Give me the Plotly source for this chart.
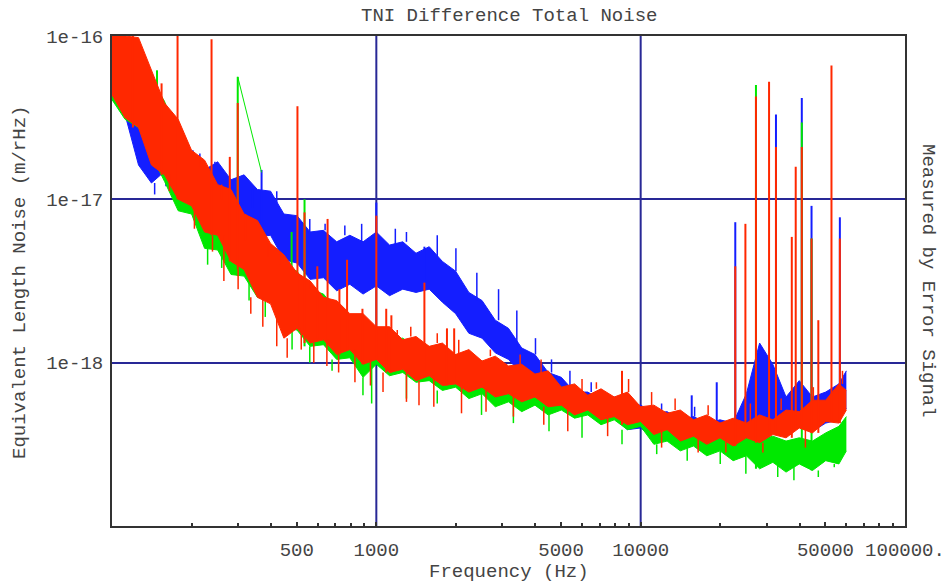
import numpy as np
import plotly.graph_objects as go

# ---------------- data ----------------
freq_hz = [100, 112, 126, 141, 158, 178, 200, 224, 251, 282,
           316, 355, 398, 447, 501, 562, 631, 708, 794, 891,
           1000, 1122, 1259, 1413, 1585, 1778, 1995, 2239, 2512, 2818,
           3162, 3548, 3981, 4467, 5012, 5623, 6310, 7079, 7943, 8913,
           10000, 11220, 12589, 14125, 15849, 17783, 19953, 22387, 25119, 28184,
           31623, 35481, 39811, 44668, 50119, 56234, 60000]

# noise band envelopes, log10(m/rHz)
blue_upper_log10 = [-16.02, -16.16, -16.38, -16.50, -16.52, -16.66, -16.73, -16.82, -16.77, -16.88,
                    -16.85, -16.94, -16.95, -17.09, -17.10, -17.20, -17.19, -17.26, -17.22, -17.26,
                    -17.20, -17.28, -17.26, -17.33, -17.29, -17.38, -17.44, -17.57, -17.62, -17.74,
                    -17.79, -17.91, -17.95, -18.06, -18.09, -18.18, -18.18, -18.23, -18.21, -18.26,
                    -18.26, -18.31, -18.30, -18.35, -18.33, -18.37, -18.35, -18.37, -18.19, -17.88,
                    -18.01, -18.21, -18.11, -18.21, -18.18, -18.13, -18.05]
blue_lower_log10 = [-16.39, -16.48, -16.79, -16.90, -16.83, -16.94, -16.99, -17.06, -17.04, -17.12,
                    -17.11, -17.23, -17.22, -17.37, -17.39, -17.49, -17.48, -17.56, -17.52, -17.58,
                    -17.53, -17.59, -17.55, -17.57, -17.55, -17.63, -17.70, -17.82, -17.85, -17.94,
                    -17.98, -18.07, -18.10, -18.20, -18.21, -18.29, -18.29, -18.36, -18.34, -18.41,
                    -18.40, -18.46, -18.45, -18.49, -18.48, -18.51, -18.49, -18.50, -18.41, -18.35,
                    -18.37, -18.43, -18.39, -18.42, -18.37, -18.35, -18.28]

green_upper_log10 = [-16.00, -16.04, -16.13, -16.27, -16.40, -16.63, -16.73, -16.91, -16.95, -17.09,
                     -17.12, -17.23, -17.28, -17.40, -17.44, -17.55, -17.58, -17.68, -17.71, -17.78,
                     -17.79, -17.86, -17.85, -17.91, -17.90, -17.96, -17.95, -18.01, -17.99, -18.04,
                     -18.04, -18.09, -18.09, -18.15, -18.15, -18.21, -18.20, -18.25, -18.24, -18.29,
                     -18.28, -18.33, -18.32, -18.37, -18.36, -18.41, -18.39, -18.44, -18.43, -18.47,
                     -18.45, -18.48, -18.46, -18.48, -18.43, -18.39, -18.33]
green_lower_log10 = [-16.39, -16.51, -16.56, -16.73, -16.89, -17.07, -17.09, -17.30, -17.31, -17.46,
                     -17.47, -17.60, -17.62, -17.79, -17.80, -17.90, -17.89, -17.98, -17.97, -18.09,
                     -18.01, -18.08, -18.06, -18.12, -18.11, -18.17, -18.15, -18.22, -18.19, -18.27,
                     -18.24, -18.30, -18.26, -18.32, -18.29, -18.34, -18.32, -18.38, -18.35, -18.41,
                     -18.39, -18.50, -18.48, -18.54, -18.51, -18.57, -18.54, -18.60, -18.57, -18.65,
                     -18.61, -18.67, -18.62, -18.66, -18.60, -18.62, -18.54]

red_upper_log10 = [-16.00, -16.00, -16.01, -16.21, -16.41, -16.51, -16.70, -16.76, -16.91, -16.94,
                   -17.09, -17.13, -17.27, -17.34, -17.45, -17.50, -17.60, -17.62, -17.70, -17.70,
                   -17.78, -17.78, -17.86, -17.84, -17.90, -17.88, -17.95, -17.92, -17.99, -17.96,
                   -18.02, -18.01, -18.07, -18.05, -18.15, -18.13, -18.20, -18.16, -18.21, -18.18,
                   -18.27, -18.26, -18.31, -18.29, -18.35, -18.32, -18.37, -18.34, -18.37, -18.32,
                   -18.35, -18.29, -18.30, -18.23, -18.23, -18.13, -18.17]
red_lower_log10 = [-16.36, -16.50, -16.56, -16.79, -16.85, -17.00, -17.04, -17.20, -17.22, -17.38,
                   -17.43, -17.60, -17.64, -17.85, -17.79, -17.88, -17.86, -17.95, -17.92, -18.01,
                   -17.98, -18.06, -18.04, -18.11, -18.08, -18.14, -18.13, -18.18, -18.15, -18.21,
                   -18.19, -18.24, -18.21, -18.27, -18.26, -18.32, -18.29, -18.35, -18.33, -18.38,
                   -18.36, -18.44, -18.41, -18.48, -18.45, -18.50, -18.46, -18.51, -18.46, -18.49,
                   -18.44, -18.46, -18.40, -18.43, -18.36, -18.37, -18.29]

# narrow lines (frequency Hz, peak log10)
blue_spike_hz = [202, 368, 1000, 1520, 15600, 19400, 22800, 32500, 40700, 44300, 56700]
blue_spike_log10 = [-16.70, -16.82, -17.02, -17.29, -18.20, -18.12, -17.14, -16.48, -16.38, -17.04, -17.11]

green_spike_hz = [148, 299, 478, 535, 27300, 40700, 44300]
green_spike_log10 = [-16.21, -16.25, -17.20, -17.00, -16.30, -16.53, -17.24]
green_gap_hz = [299, 368]
green_gap_log10 = [-16.25, -16.835]

red_spike_hz = [112, 120, 154, 177, 238, 279, 299, 503, 535, 598, 654, 725, 775, 886,
                1000, 1090, 1140, 1520, 1850, 1970, 8500, 22800, 24900, 27300, 30600,
                32500, 37300, 38600, 40700, 44300, 47000, 52700, 56700]
red_spike_log10 = [-15.90, -15.90, -16.29, -15.90, -16.02, -16.74, -16.41, -16.43, -17.08, -17.41,
                   -17.12, -17.55, -17.37, -17.67, -17.10, -17.67, -17.71, -17.51, -17.79, -17.79,
                   -18.05, -17.41, -17.15, -16.37, -16.28, -16.68, -17.23, -16.80, -16.68, -17.24,
                   -17.74, -16.18, -17.24]

# short noise excursions beyond the band edges (frequency Hz, tip log10)
red_up_hz = [215, 260, 320, 390, 430, 560, 610, 690, 840, 1200, 1350, 1700, 2050, 2700,
             3500, 4200, 6000, 6800, 9000, 11000, 13500, 18000, 26000, 34000, 45000, 58000]
red_up_log10 = [-16.80, -17.00, -17.25, -17.35, -17.40, -17.55, -17.60, -17.62, -17.70, -17.80,
                -17.78, -17.82, -17.86, -17.92, -17.95, -17.98, -18.10, -18.12, -18.10, -18.18,
                -18.22, -18.26, -18.25, -18.22, -18.15, -18.05]
red_down_hz = [165, 205, 240, 265, 300, 335, 372, 420, 460, 520, 580, 650, 720, 830, 950,
               1060, 1300, 1450, 1650, 2100, 2600, 3300, 4300, 5300, 7500, 12000, 16500,
               21000, 29000, 42000]
red_down_log10 = [-16.95, -17.18, -17.32, -17.50, -17.55, -17.70, -17.78, -17.90, -17.97, -17.92,
                  -18.00, -18.02, -18.06, -18.12, -18.14, -18.18, -18.24, -18.26, -18.27, -18.31,
                  -18.30, -18.33, -18.38, -18.42, -18.45, -18.52, -18.55, -18.55, -18.55, -18.52]
blue_up_hz = [150, 185, 215, 245, 300, 340, 420, 560, 640, 760, 880, 1180, 1300, 1700,
              2000, 2400, 2900, 3400, 4000, 4600, 5400, 6500, 12000, 16000]
blue_up_log10 = [-16.45, -16.65, -16.72, -16.78, -16.98, -17.05, -17.12, -17.12, -17.15, -17.16,
                 -17.15, -17.18, -17.20, -17.22, -17.30, -17.45, -17.55, -17.68, -17.85, -17.98,
                 -18.05, -18.12, -18.25, -18.27]
blue_down_hz = [145, 160]
blue_down_log10 = [-16.97, -16.92]
green_down_hz = [185, 230, 260, 330, 380, 480, 560, 680, 890, 960, 1300, 1700, 2500, 3300,
                 4500, 6000, 8500, 11500, 15000, 20000, 25000, 33000, 38000, 47000, 54000]
green_down_log10 = [-17.05, -17.40, -17.42, -17.62, -17.72, -17.92, -18.00, -18.05, -18.20, -18.25,
                    -18.22, -18.25, -18.32, -18.37, -18.42, -18.46, -18.50, -18.56, -18.60, -18.62,
                    -18.68, -18.70, -18.72, -18.70, -18.64]

x_tick_vals = [500, 1000, 5000, 10000, 50000, 100000]
x_tick_text = ["500", "1000", "5000", "10000", "50000", "100000."]
x_minor_vals = [200, 300, 400, 600, 700, 800, 900, 2000, 3000, 4000, 6000, 7000, 8000, 9000,
                20000, 30000, 40000, 60000, 70000, 80000, 90000]
y_tick_vals = [1e-16, 1e-17, 1e-18]
y_tick_text = ["1e-16", "1e-17", "1e-18"]
grid_x = [1000, 10000]

# ---------------- styling ----------------
BLUE = "rgb(20,30,255)"
GREEN = "rgb(0,232,0)"
RED = "rgb(255,40,0)"
NAVY = "rgb(40,40,150)"
FONT = "Liberation Mono, DejaVu Sans Mono, monospace"
TXT = "#444444"

f = np.array(freq_hz, dtype=float)
logf = np.log10(f)


def band(fig, upper, lower, color):
    fig.add_trace(go.Scatter(x=f, y=10.0 ** np.array(lower), mode="lines",
                             line=dict(color=color, width=1), showlegend=False,
                             hoverinfo="skip"))
    fig.add_trace(go.Scatter(x=f, y=10.0 ** np.array(upper), mode="lines",
                             line=dict(color=color, width=1), fill="tonexty",
                             fillcolor=color, showlegend=False, hoverinfo="skip"))


def spikes(fig, hz, tips, base_env, color, width=2.0):
    xs, ys = [], []
    base = np.array(base_env)
    for h, p in zip(hz, tips):
        i = int(np.argmin(np.abs(logf - np.log10(h))))
        xs += [h, h, None]
        ys += [10.0 ** base[i], 10.0 ** p, None]
    fig.add_trace(go.Scatter(x=xs, y=ys, mode="lines", line=dict(color=color, width=width),
                             showlegend=False, hoverinfo="skip", connectgaps=False))


fig = go.Figure()
band(fig, blue_upper_log10, blue_lower_log10, BLUE)
spikes(fig, blue_up_hz, blue_up_log10, blue_upper_log10, BLUE, 1.5)
spikes(fig, blue_down_hz, blue_down_log10, blue_lower_log10, BLUE, 1.5)
spikes(fig, blue_spike_hz, blue_spike_log10, blue_lower_log10, BLUE)
band(fig, green_upper_log10, green_lower_log10, GREEN)
spikes(fig, green_down_hz, green_down_log10, green_lower_log10, GREEN, 1.5)
spikes(fig, green_spike_hz, green_spike_log10, green_lower_log10, GREEN)
fig.add_trace(go.Scatter(x=green_gap_hz, y=10.0 ** np.array(green_gap_log10), mode="lines",
                         line=dict(color=GREEN, width=1), showlegend=False, hoverinfo="skip"))
band(fig, red_upper_log10, red_lower_log10, RED)
spikes(fig, red_up_hz, red_up_log10, red_upper_log10, RED, 1.5)
spikes(fig, red_down_hz, red_down_log10, red_lower_log10, RED, 1.5)
spikes(fig, red_spike_hz, red_spike_log10, red_lower_log10, RED)

for gx in grid_x:
    fig.add_shape(type="line", xref="x", yref="paper", x0=gx, x1=gx, y0=0, y1=1,
                  line=dict(color=NAVY, width=2), layer="below")

fig.update_layout(
    width=945, height=582,
    margin=dict(l=112, r=40, t=36, b=56, autoexpand=False),
    paper_bgcolor="white", plot_bgcolor="white",
    font=dict(family=FONT, size=19, color=TXT),
    showlegend=False,
)
fig.update_xaxes(type="log", range=[2, 5], tickmode="array", tickvals=x_tick_vals,
                 ticktext=x_tick_text, ticks="inside", ticklen=4, tickwidth=1.5,
                 tickcolor="#333", showgrid=False, zeroline=False, automargin=False,
                 showline=True, mirror=True, linecolor="#333", linewidth=2,
                 ticklabelstandoff=5,
                 minor=dict(tickmode="array", tickvals=x_minor_vals, ticks="inside",
                            ticklen=3, tickcolor="#333", showgrid=False))
fig.update_yaxes(type="log", range=[-19, -16], tickmode="array", tickvals=y_tick_vals,
                 ticktext=y_tick_text, ticks="", showgrid=True, gridcolor=NAVY, gridwidth=2,
                 zeroline=False, showline=True, mirror=True, linecolor="#333", linewidth=2,
                 automargin=False, ticklabelstandoff=3)

fig.add_annotation(text="TNI Difference Total Noise", xref="paper", yref="paper", x=0.5,
                   y=1 + (36 - 16) / 490, xanchor="center", yanchor="middle",
                   showarrow=False, font=dict(family=FONT, size=19, color=TXT))
fig.add_annotation(text="Frequency (Hz)", xref="paper", yref="paper", x=0.5,
                   y=-(572 - 526) / 490, xanchor="center", yanchor="middle",
                   showarrow=False, font=dict(family=FONT, size=19, color=TXT))
fig.add_annotation(text="Equivalent Length Noise (m/rHz)", xref="paper", yref="paper",
                   x=(20 - 112) / 793, y=0.5 - (283 - 281) / 490, xanchor="center",
                   yanchor="middle", textangle=-90, showarrow=False,
                   font=dict(family=FONT, size=19, color=TXT))
fig.add_annotation(text="Measured by Error Signal", xref="paper", yref="paper",
                   x=(928 - 112) / 793, y=0.5, xanchor="center", yanchor="middle",
                   textangle=90, showarrow=False, font=dict(family=FONT, size=19, color=TXT))

fig.write_html("out.html",
               config={"displayModeBar": False},
               post_script="document.body.style.margin='0px';"
                           "document.body.style.padding='0px';"
                           "document.body.style.overflow='hidden';")
